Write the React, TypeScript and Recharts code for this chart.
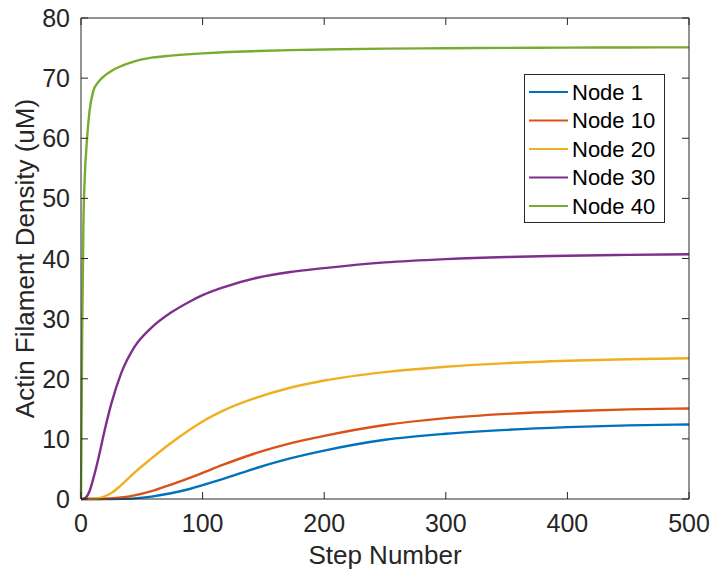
import React from 'react';
import { LineChart, Line, XAxis, YAxis } from 'recharts';

// Simulation steps at which the filament densities were sampled
const steps = [0, 1, 2, 3, 5, 7, 10, 14, 20, 25, 33, 44, 58, 74, 90, 100, 117, 145, 172, 200, 250, 300, 350, 400, 450, 500];

// Actin filament density (uM) per node
const node1 = [0, 0, 0, 0, 0, 0, 0, 0, 0, 0, 0.02, 0.1, 0.4, 0.95, 1.7, 2.3, 3.35, 5.2, 6.75, 8.05, 9.85, 10.85, 11.5, 11.95, 12.25, 12.4];
const node10 = [0, 0, 0, 0, 0, 0, 0, 0, 0.05, 0.1, 0.25, 0.6, 1.3, 2.4, 3.55, 4.35, 5.7, 7.7, 9.25, 10.5, 12.3, 13.45, 14.15, 14.6, 14.9, 15.05];
const node20 = [0, 0, 0, 0, 0, 0.01, 0.03, 0.1, 0.5, 1.0, 2.3, 4.4, 6.75, 9.3, 11.6, 12.9, 14.7, 16.9, 18.5, 19.7, 21.1, 22.0, 22.6, 23.0, 23.25, 23.4];
const node30 = [0, 0, 0.02, 0.1, 0.5, 1.3, 3.3, 6.5, 11.9, 15.9, 20.9, 25.3, 28.5, 31.0, 32.9, 33.9, 35.2, 36.8, 37.75, 38.4, 39.35, 39.9, 40.25, 40.45, 40.6, 40.7];
const node40 = [0, 28, 46, 53, 60, 64.5, 67.8, 69.3, 70.5, 71.2, 72.0, 72.8, 73.4, 73.75, 74.0, 74.12, 74.3, 74.5, 74.65, 74.75, 74.9, 74.98, 75.03, 75.07, 75.1, 75.12];

const xTicks = [0, 100, 200, 300, 400, 500];
const yTicks = [0, 10, 20, 30, 40, 50, 60, 70, 80];

const SERIES = [
  { key: 'n1', name: 'Node 1', color: '#0072BD', values: node1 },
  { key: 'n10', name: 'Node 10', color: '#D95319', values: node10 },
  { key: 'n20', name: 'Node 20', color: '#EDB120', values: node20 },
  { key: 'n30', name: 'Node 30', color: '#7E2F8E', values: node30 },
  { key: 'n40', name: 'Node 40', color: '#77AC30', values: node40 },
];

const data = steps.map((s, i) => {
  const row: Record<string, number> = { step: s };
  SERIES.forEach((sr) => {
    row[sr.key] = sr.values[i];
  });
  return row;
});

const FONT = '"Liberation Sans", Arial, Helvetica, sans-serif';
const INK = '#262626';
const TICK_LEN = 7;
const TICK_FONT = 25;
const LABEL_FONT = 26;

const BottomTick = (props: any) => {
  const { x, y, payload } = props;
  return (
    <g>
      <line x1={x} y1={y} x2={x} y2={y - TICK_LEN} stroke={INK} strokeWidth={1} />
      <text x={x} y={y + 33} textAnchor="middle" fontSize={TICK_FONT} fill={INK} fontFamily={FONT}>
        {payload.value}
      </text>
    </g>
  );
};

const TopTick = (props: any) => {
  const { x, y } = props;
  return <line x1={x} y1={y} x2={x} y2={y + TICK_LEN} stroke={INK} strokeWidth={1} />;
};

const LeftTick = (props: any) => {
  const { x, y, payload } = props;
  return (
    <g>
      <line x1={x} y1={y} x2={x + TICK_LEN} y2={y} stroke={INK} strokeWidth={1} />
      <text x={x - 11} y={y} dy="0.36em" textAnchor="end" fontSize={TICK_FONT} fill={INK} fontFamily={FONT}>
        {payload.value}
      </text>
    </g>
  );
};

const RightTick = (props: any) => {
  const { x, y } = props;
  return <line x1={x} y1={y} x2={x - TICK_LEN} y2={y} stroke={INK} strokeWidth={1} />;
};

const YTitle = (props: any) => {
  const { viewBox } = props;
  const cx = 25;
  const cy = viewBox.y + viewBox.height / 2;
  return (
    <text
      x={cx}
      y={cy}
      transform={`rotate(-90, ${cx}, ${cy})`}
      textAnchor="middle"
      dy="0.36em"
      fontSize={LABEL_FONT}
      fill={INK}
      fontFamily={FONT}
    >
      Actin Filament Density (uM)
    </text>
  );
};

const LegendBox = () => (
  <div
    style={{
      position: 'absolute',
      left: 524,
      top: 74,
      width: 141,
      height: 149,
      boxSizing: 'border-box',
      border: `1px solid ${INK}`,
      background: '#fff',
    }}
  >
    <svg width={139} height={147} style={{ display: 'block' }}>
      {SERIES.map((s, i) => {
        const cy = 17 + i * 28.5;
        return (
          <g key={s.key}>
            <line x1={4} x2={43} y1={cy} y2={cy} stroke={s.color} strokeWidth={2.2} />
            <text x={47} y={cy} dy="0.36em" fontSize={22} fill="#000" fontFamily={FONT}>
              {s.name}
            </text>
          </g>
        );
      })}
    </svg>
  </div>
);

export default function App() {
  return (
    <div style={{ position: 'absolute', left: 0, top: 0, width: 711, height: 574, background: '#fff' }}>
      <LineChart
        width={711}
        height={574}
        data={data}
        margin={{ top: 17, right: 21, bottom: 0, left: 0 }}
      >
        <XAxis
          xAxisId="bottom"
          dataKey="step"
          type="number"
          domain={[0, 500]}
          ticks={xTicks}
          height={75}
          tickSize={0}
          tickMargin={0}
          tickLine={false}
          tick={<BottomTick />}
          axisLine={{ stroke: INK, strokeWidth: 1 }}
          interval={0}
          label={{ value: 'Step Number', position: 'insideBottom', offset: 10, fontSize: LABEL_FONT, fill: INK, fontFamily: FONT }}
        />
        <XAxis
          xAxisId="top"
          orientation="top"
          dataKey="step"
          type="number"
          domain={[0, 500]}
          ticks={xTicks}
          height={1}
          tickSize={0}
          tickMargin={0}
          tickLine={false}
          tick={<TopTick />}
          axisLine={{ stroke: INK, strokeWidth: 1 }}
          interval={0}
        />
        <YAxis
          yAxisId="left"
          type="number"
          domain={[0, 80]}
          ticks={yTicks}
          width={81}
          tickSize={0}
          tickMargin={0}
          tickLine={false}
          tick={<LeftTick />}
          axisLine={{ stroke: INK, strokeWidth: 1 }}
          interval={0}
          label={<YTitle />}
        />
        <YAxis
          yAxisId="right"
          orientation="right"
          type="number"
          domain={[0, 80]}
          ticks={yTicks}
          width={1}
          tickSize={0}
          tickMargin={0}
          tickLine={false}
          tick={<RightTick />}
          axisLine={{ stroke: INK, strokeWidth: 1 }}
          interval={0}
        />
        {SERIES.map((s) => (
          <Line
            key={s.key}
            xAxisId="bottom"
            yAxisId="left"
            type="monotone"
            dataKey={s.key}
            name={s.name}
            stroke={s.color}
            strokeWidth={2.4}
            dot={false}
            activeDot={false}
            isAnimationActive={false}
          />
        ))}
        <Line
          xAxisId="top"
          yAxisId="right"
          dataKey="n1"
          stroke="none"
          dot={false}
          activeDot={false}
          legendType="none"
          isAnimationActive={false}
        />
      </LineChart>
      <LegendBox />
    </div>
  );
}
